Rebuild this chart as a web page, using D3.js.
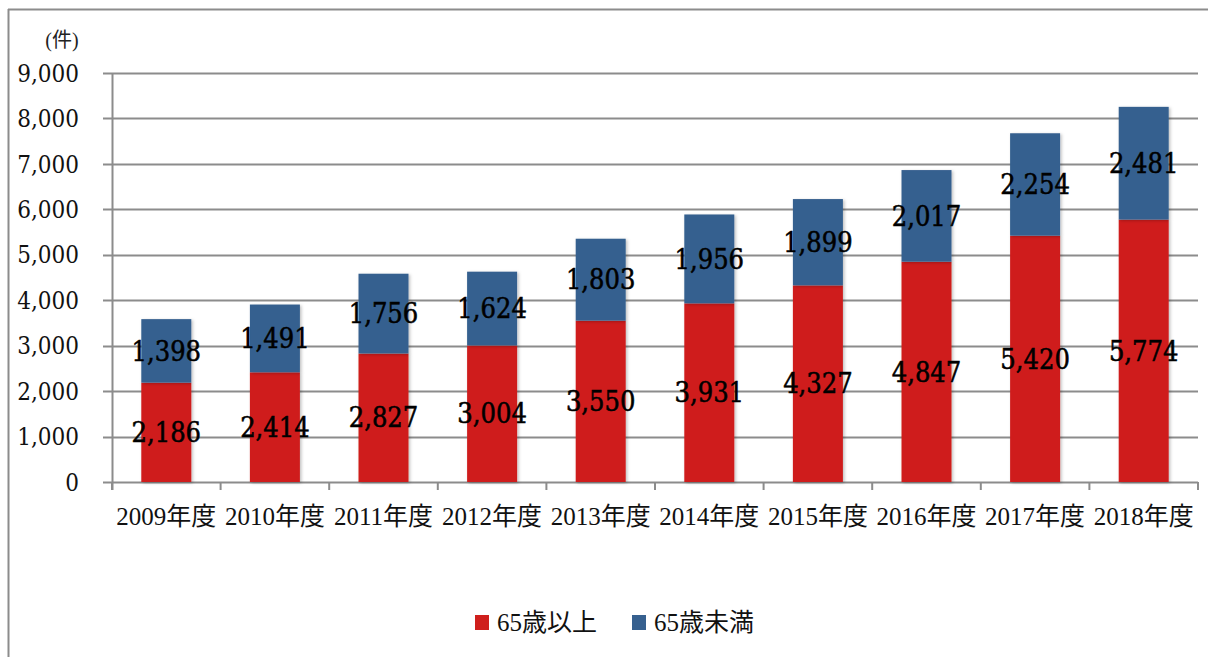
<!DOCTYPE html>
<html>
<head>
<meta charset="utf-8">
<script src="https://cdn.jsdelivr.net/npm/d3@7"></script>
<style>
  body { margin: 0; background: #fff; }
  text { font-family: "Liberation Serif", "DejaVu Serif", "Noto Sans CJK JP", serif; }
  .num { font-family: "DejaVu Serif Condensed", "DejaVu Serif", serif; font-stretch: condensed; }
</style>
</head>
<body>
<div id="chart"></div>
<script>
var years = ["2009年度", "2010年度", "2011年度", "2012年度", "2013年度", "2014年度", "2015年度", "2016年度", "2017年度", "2018年度"];
var over65 = [2186, 2414, 2827, 3004, 3550, 3931, 4327, 4847, 5420, 5774];
var under65 = [1398, 1491, 1756, 1624, 1803, 1956, 1899, 2017, 2254, 2481];
var yTicks = [0, 1000, 2000, 3000, 4000, 5000, 6000, 7000, 8000, 9000];
var seriesNames = ["65歳以上", "65歳未満"];
var colors = ["#cf1f1c", "#36608f"];

var width = 1208, height = 657;

var svg = d3.select("#chart")
    .append("svg")
    .attr("width", width)
    .attr("height", height);

// soft shadow like the office chart
var defs = svg.append("defs");
var f = defs.append("filter").attr("id", "shadow")
    .attr("x", "-10%").attr("y", "-10%").attr("width", "130%").attr("height", "120%");
f.append("feDropShadow")
    .attr("dx", 1.5).attr("dy", 1)
    .attr("stdDeviation", 1.5)
    .attr("flood-color", "#000")
    .attr("flood-opacity", 0.25);

// frame (left + top only visible)
svg.append("line")
    .attr("x1", 8.5).attr("x2", 8.5).attr("y1", 9).attr("y2", height)
    .style("stroke", "#8c8c8c").style("stroke-width", 2);
svg.append("line")
    .attr("x1", 8).attr("x2", width).attr("y1", 9.5).attr("y2", 9.5)
    .style("stroke", "#8c8c8c").style("stroke-width", 2);

var x = d3.scaleBand()
    .domain(years)
    .range([112, 1198])
    .paddingInner(0)
    .paddingOuter(0);

var y = d3.scaleLinear()
    .domain([0, 9000])
    .range([482, 73]);

// gridlines
svg.append("g")
    .selectAll("line")
    .data(yTicks)
    .enter().append("line")
    .attr("x1", 103)
    .attr("x2", 1198)
    .attr("y1", (d) => Math.round(y(d)) + 0.5)
    .attr("y2", (d) => Math.round(y(d)) + 0.5)
    .style("stroke", "#8c8c8c")
    .style("stroke-width", 2);

// y axis line
svg.append("line")
    .attr("x1", 112.5).attr("x2", 112.5)
    .attr("y1", y(9000)).attr("y2", y(0) + 8)
    .style("stroke", "#8c8c8c").style("stroke-width", 2);

// x tick marks at category boundaries
var bounds = years.map((d) => x(d)).concat([x.range()[1]]);
svg.append("g")
    .selectAll("line")
    .data(bounds)
    .enter().append("line")
    .attr("x1", (d) => d)
    .attr("x2", (d) => d)
    .attr("y1", y(0))
    .attr("y2", y(0) + 8)
    .style("stroke", "#8c8c8c")
    .style("stroke-width", 2);

// y labels
svg.append("g")
    .selectAll("text")
    .data(yTicks)
    .enter().append("text")
    .attr("class", "num")
    .attr("x", 79)
    .attr("y", (d) => y(d))
    .attr("dy", "0.36em")
    .attr("text-anchor", "end")
    .style("font-size", "24px")
    .style("fill", "#111")
    .text((d) => d3.format(",")(d));

svg.append("text")
    .attr("x", 62)
    .attr("y", 47)
    .attr("text-anchor", "middle")
    .style("font-size", "20px")
    .style("fill", "#222")
    .text("(件)");

// x labels
svg.append("g")
    .selectAll("text")
    .data(years)
    .enter().append("text")
    .attr("x", (d) => x(d) + x.bandwidth() / 2)
    .attr("y", 525)
    .attr("text-anchor", "middle")
    .style("font-size", "25px")
    .style("fill", "#111")
    .text((d) => d);

// stacked data
var rows = years.map((d, i) => ({ year: d, a: over65[i], b: under65[i] }));
var stack = d3.stack().keys(["a", "b"])(rows);

var barW = 50;

var layers = svg.append("g")
    .selectAll("g")
    .data(stack)
    .enter().append("g")
    .attr("fill", (d, i) => colors[i]);

layers.selectAll("rect")
    .data((d) => d)
    .enter().append("rect")
    .attr("x", (d) => x(d.data.year) + x.bandwidth() / 2 - barW / 2)
    .attr("y", (d) => y(d[1]))
    .attr("width", barW)
    .attr("height", (d) => y(d[0]) - y(d[1]))
    .attr("filter", "url(#shadow)");

// value labels
stack.forEach((layer) => {
    svg.append("g")
        .selectAll("text")
        .data(layer)
        .enter().append("text")
        .attr("class", "num")
        .attr("x", (d) => x(d.data.year) + x.bandwidth() / 2)
        .attr("y", (d) => (y(d[0]) + y(d[1])) / 2)
        .attr("dy", "0.36em")
        .attr("text-anchor", "middle")
        .style("font-size", "27px")
        .style("fill", "#000")
        .style("stroke", "#000")
        .style("stroke-width", 0.5)
        .text((d) => d3.format(",")(d[1] - d[0]));
});

// legend
var legend = svg.append("g");
var legX = [475, 632];
seriesNames.forEach((name, i) => {
    legend.append("rect")
        .attr("x", legX[i])
        .attr("y", 615)
        .attr("width", 14)
        .attr("height", 15)
        .style("fill", colors[i]);
    legend.append("text")
        .attr("x", legX[i] + 22)
        .attr("y", 622)
        .attr("dy", "0.36em")
        .style("font-size", "25px")
        .style("fill", "#111")
        .text(name);
});
</script>
</body>
</html>
